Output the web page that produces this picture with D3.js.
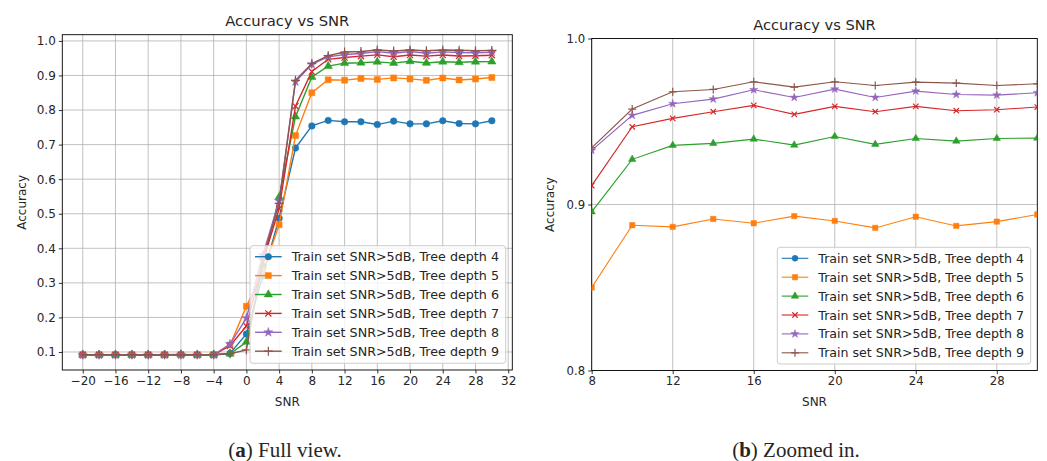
<!DOCTYPE html>
<html>
<head>
<meta charset="utf-8">
<script src="https://cdn.jsdelivr.net/npm/d3@7"></script>
<style>
  body { margin: 0; background: #fff; }
  svg text { font-family: "DejaVu Sans", sans-serif; fill: #262626; }
</style>
</head>
<body>
<svg id="chart" width="1047" height="461"></svg>
<script>
// SNR values on the x axis
const snr = [-20, -18, -16, -14, -12, -10, -8, -6, -4, -2, 0, 2, 4, 6, 8, 10, 12, 14, 16, 18, 20, 22, 24, 26, 28, 30];

// accuracy per tree depth
const depth4 = [0.092, 0.092, 0.092, 0.092, 0.092, 0.092, 0.092, 0.092, 0.092, 0.096, 0.152, 0.32, 0.487, 0.690, 0.754, 0.770, 0.766, 0.766, 0.758, 0.768, 0.760, 0.760, 0.769, 0.761, 0.760, 0.769];
const depth5 = [0.092, 0.092, 0.092, 0.092, 0.092, 0.092, 0.092, 0.092, 0.092, 0.120, 0.232, 0.33, 0.468, 0.726, 0.850, 0.8875, 0.8865, 0.8913, 0.8887, 0.8930, 0.8901, 0.8859, 0.8926, 0.8871, 0.8897, 0.8940];
const depth6 = [0.092, 0.092, 0.092, 0.092, 0.092, 0.092, 0.093, 0.092, 0.092, 0.095, 0.129, 0.35, 0.548, 0.781, 0.8956, 0.9272, 0.9356, 0.9368, 0.9394, 0.9358, 0.9410, 0.9362, 0.9398, 0.9382, 0.9398, 0.9400];
const depth7 = [0.092, 0.092, 0.092, 0.092, 0.092, 0.092, 0.092, 0.092, 0.092, 0.118, 0.175, 0.36, 0.515, 0.811, 0.9114, 0.9468, 0.9519, 0.9559, 0.9597, 0.9543, 0.9591, 0.9559, 0.9591, 0.9565, 0.9571, 0.9587];
const depth8 = [0.092, 0.092, 0.092, 0.092, 0.092, 0.092, 0.092, 0.092, 0.092, 0.123, 0.198, 0.38, 0.537, 0.882, 0.9326, 0.9537, 0.9607, 0.9635, 0.9691, 0.9645, 0.9695, 0.9645, 0.9683, 0.9663, 0.9659, 0.9673];
const depth9 = [0.092, 0.092, 0.092, 0.092, 0.092, 0.092, 0.092, 0.092, 0.092, 0.095, 0.106, 0.37, 0.530, 0.886, 0.9342, 0.9575, 0.9679, 0.9693, 0.9739, 0.9707, 0.9739, 0.9717, 0.9737, 0.9731, 0.9717, 0.9727];

const seriesNames = [
  "Train set SNR>5dB, Tree depth 4",
  "Train set SNR>5dB, Tree depth 5",
  "Train set SNR>5dB, Tree depth 6",
  "Train set SNR>5dB, Tree depth 7",
  "Train set SNR>5dB, Tree depth 8",
  "Train set SNR>5dB, Tree depth 9"
];

// tick labels
const leftXTicks = [-20, -16, -12, -8, -4, 0, 4, 8, 12, 16, 20, 24, 28, 32];
const leftYTicks = [0.1, 0.2, 0.3, 0.4, 0.5, 0.6, 0.7, 0.8, 0.9, 1.0];
const rightXTicks = [8, 12, 16, 20, 24, 28];
const rightYTicks = [0.8, 0.9, 1.0];

const colors = ["#1f77b4", "#ff7f0e", "#2ca02c", "#d62728", "#9467bd", "#8c564b"];
const symbols = [d3.symbolCircle, d3.symbolSquare, d3.symbolTriangle, d3.symbolX, d3.symbolStar, d3.symbolPlus];
const stroked = [false, false, false, true, false, true];
const symSize = [34, 36, 30, 26, 26, 28];

const series = [depth4, depth5, depth6, depth7, depth8, depth9].map((vals, i) => ({
  name: seriesNames[i],
  points: snr.map((s, j) => ({ x: s, y: vals[j] }))
}));

const svg = d3.select("#chart");
const fmtMinus = d => (d < 0 ? "\u2212" + Math.abs(d) : String(d));

function drawPanel(o) {
  const w = o.right - o.left, h = o.bottom - o.top;
  const g = svg.append("g").attr("transform", `translate(${o.left},${o.top})`);
  const x = d3.scaleLinear().domain(o.xDomain).range([0, w]);
  const y = d3.scaleLinear().domain(o.yDomain).range([h, 0]);

  // grid
  g.append("g").selectAll("line.vx").data(o.xTicks).join("line")
    .attr("x1", d => x(d)).attr("x2", d => x(d)).attr("y1", 0).attr("y2", h)
    .attr("stroke", "#b0b0b0").attr("stroke-width", 0.9).attr("opacity", 0.85);
  g.append("g").selectAll("line.hy").data(o.yTicks).join("line")
    .attr("x1", 0).attr("x2", w).attr("y1", d => y(d)).attr("y2", d => y(d))
    .attr("stroke", "#b0b0b0").attr("stroke-width", 0.9).attr("opacity", 0.85);

  const clipId = "clip" + o.id;
  svg.append("clipPath").attr("id", clipId).append("rect")
    .attr("x", o.left).attr("y", o.top).attr("width", w).attr("height", h);
  const plot = svg.append("g").attr("clip-path", `url(#${clipId})`)
    .append("g").attr("transform", `translate(${o.left},${o.top})`);

  const line = d3.line().x(d => x(d.x)).y(d => y(d.y));
  series.forEach((s, i) => {
    plot.append("path").datum(s.points)
      .attr("fill", "none").attr("stroke", colors[i])
      .attr("stroke-width", o.lineW).attr("d", line);
    const sym = d3.symbol().type(symbols[i]).size(symSize[i] * o.markScale);
    plot.append("g").selectAll("path").data(s.points).join("path")
      .attr("transform", d => `translate(${x(d.x)},${y(d.y)})`)
      .attr("d", sym)
      .attr("fill", stroked[i] ? "none" : colors[i])
      .attr("stroke", colors[i])
      .attr("stroke-width", stroked[i] ? 1.2 : 0.5);
  });

  // axes
  const ax = g.append("g").attr("transform", `translate(0,${h})`)
    .call(d3.axisBottom(x).tickValues(o.xTicks).tickSize(3.5).tickPadding(3).tickFormat(fmtMinus));
  const ay = g.append("g")
    .call(d3.axisLeft(y).tickValues(o.yTicks).tickSize(3.5).tickPadding(3).tickFormat(d3.format(".1f")));
  [ax, ay].forEach(a => {
    a.select(".domain").remove();
    a.selectAll("text").attr("font-size", o.tickFont).attr("fill", "#262626")
      .style("font-family", "'DejaVu Sans', sans-serif");
    a.selectAll("line").attr("stroke", "#000").attr("stroke-width", 0.8);
  });
  g.append("rect").attr("width", w).attr("height", h)
    .attr("fill", "none").attr("stroke", "#000").attr("stroke-width", 0.9);

  // title and labels
  g.append("text").attr("x", w / 2).attr("y", o.titleY - o.top)
    .attr("text-anchor", "middle").attr("font-size", o.titleFont).text("Accuracy vs SNR");
  g.append("text").attr("x", w / 2).attr("y", o.xLabelY - o.top)
    .attr("text-anchor", "middle").attr("font-size", 12).text("SNR");
  g.append("text")
    .attr("transform", `translate(${o.yLabelX - o.left},${h / 2}) rotate(-90)`)
    .attr("text-anchor", "middle").attr("font-size", 12).text("Accuracy");

  // legend
  const L = o.legend;
  svg.append("rect").attr("x", L.x0).attr("y", L.y0)
    .attr("width", L.x1 - L.x0).attr("height", L.y1 - L.y0).attr("rx", 3)
    .attr("fill", "#fff").attr("fill-opacity", 0.8)
    .attr("stroke", "#cccccc").attr("stroke-width", 1);
  series.forEach((s, i) => {
    const cy = L.row0 + i * L.step;
    const row = svg.append("g");
    row.append("line").attr("x1", L.h0).attr("x2", L.h1).attr("y1", cy).attr("y2", cy)
      .attr("stroke", colors[i]).attr("stroke-width", o.lineW);
    row.append("path").attr("transform", `translate(${(L.h0 + L.h1) / 2},${cy})`)
      .attr("d", d3.symbol().type(symbols[i]).size(symSize[i] * o.markScale)())
      .attr("fill", stroked[i] ? "none" : colors[i]).attr("stroke", colors[i])
      .attr("stroke-width", stroked[i] ? 1.2 : 0.5);
    row.append("text").attr("x", L.tx).attr("y", cy).attr("dy", "0.36em")
      .attr("font-size", o.legendFont).text(s.name);
  });
}

// left panel y range: data extent plus 5% margin, like the original
const allVals = [].concat(depth4, depth5, depth6, depth7, depth8, depth9);
const yMin = d3.min(allVals), yMax = d3.max(allVals), pad = (yMax - yMin) * 0.05;

drawPanel({
  id: "a", left: 62.3, right: 512.3, top: 34.7, bottom: 370,
  xDomain: [-22.5, 32.5], yDomain: [yMin - pad, yMax + pad],
  xTicks: leftXTicks, yTicks: leftYTicks,
  lineW: 1.4, markScale: 1, tickFont: 12, titleFont: 14.8, legendFont: 12.7,
  titleY: 26, xLabelY: 406, yLabelX: 26,
  legend: { x0: 250, y0: 245.7, x1: 505.7, y1: 363.3, row0: 256.7, step: 18.9, h0: 255, h1: 281.7, tx: 291.7 }
});

drawPanel({
  id: "b", left: 591.7, right: 1037.3, top: 38.5, bottom: 370.5,
  xDomain: [8, 30], yDomain: [0.8, 1.0],
  xTicks: rightXTicks, yTicks: rightYTicks,
  lineW: 1.1, markScale: 0.8, tickFont: 11.7, titleFont: 14.6, legendFont: 12.6,
  titleY: 30, xLabelY: 406, yLabelX: 554,
  legend: { x0: 777.3, y0: 247.3, x1: 1030.7, y1: 364, row0: 258.3, step: 18.9, h0: 781.7, h1: 808.3, tx: 818.3 }
});

// sub-figure captions
const caps = [{ x: 285, k: "a", t: " Full view." }, { x: 796, k: "b", t: " Zoomed in." }];
caps.forEach(c => {
  const t = svg.append("text").attr("x", c.x).attr("y", 457).attr("text-anchor", "middle")
    .style("font-family", "'Liberation Serif', 'DejaVu Serif', serif").attr("font-size", 21).attr("fill", "#111");
  t.append("tspan").text("(");
  t.append("tspan").attr("font-weight", "bold").text(c.k);
  t.append("tspan").text(")" + c.t);
});
</script>
</body>
</html>
